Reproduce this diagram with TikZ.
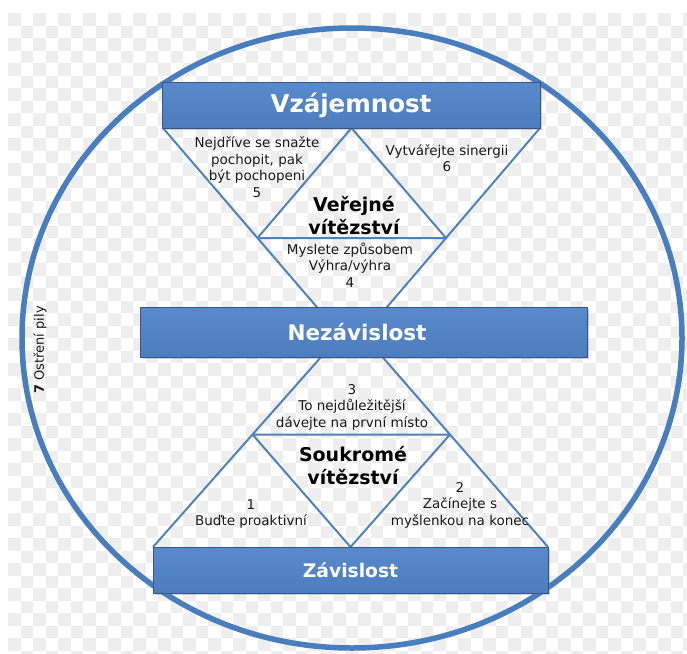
\documentclass[tikz,border=0pt]{standalone}
\usepackage{fontspec}
\setmainfont{DejaVu Sans}
\usetikzlibrary{shadows}

\definecolor{lineblue}{RGB}{79,129,189}
\definecolor{ringblue}{RGB}{72,125,190}
\definecolor{bartop}{RGB}{88,138,204}
\definecolor{barbot}{RGB}{76,125,190}
\definecolor{barrim}{RGB}{52,88,134}
\definecolor{checkgray}{RGB}{238,238,238}
\definecolor{inktext}{RGB}{25,25,25}

\begin{document}
\begin{tikzpicture}[x=1pt,y=-1pt,
  bar/.style={draw=barrim, line width=1pt, top color=bartop, bottom color=barbot,
    text=white, inner sep=0pt,
    drop shadow={shadow xshift=1.5pt, shadow yshift=-1.5pt, opacity=0.35}},
  habit/.style={align=center, font=\fontsize{13.5}{16.5}\selectfont, text=inktext, inner sep=0pt},
  victory/.style={align=center, font=\fontsize{19}{23}\selectfont\bfseries, text=black, inner sep=0pt},
  edge/.style={draw=lineblue, line width=2pt, line join=round}
]
\useasboundingbox (0,0) rectangle (687,653);
\fill[white] (0,0) rectangle (687,653);

% checkered backdrop
\begin{scope}
  \clip (8,13) rectangle (687,653);
  \foreach \j in {0,...,51}{
    \pgfmathtruncatemacro{\s}{mod(\j,2)}
    \foreach \i in {0,...,27}{
      \fill[checkgray] (8+25*\i+12.5*\s, 13+12.5*\j) rectangle ++(12.5,12.5);
    }
  }
\end{scope}

% the ring of renewal
\draw[ringblue, line width=5.5pt] (352,338) ellipse [x radius=330pt, y radius=310pt];

% upper (inverted) triangle and its subdivision
\coordinate (tA) at (163,128);
\coordinate (tB) at (540,128);
\coordinate (tC) at (352,348);
\coordinate (tAB) at (351.5,128);
\coordinate (tAC) at (257.5,238);
\coordinate (tBC) at (446,238);
\draw[edge] (tA) -- (tC) -- (tB);
\draw[edge] (tAC) -- (tAB) -- (tBC) -- cycle;

% lower triangle and its subdivision
\coordinate (bD) at (153,547);
\coordinate (bE) at (548,547);
\coordinate (bF) at (352,322);
\coordinate (bDE) at (350.5,547);
\coordinate (bDF) at (252.5,434.5);
\coordinate (bEF) at (450,434.5);
\draw[edge] (bD) -- (bF) -- (bE);
\draw[edge] (bDF) -- (bDE) -- (bEF) -- cycle;

% habits
\node[habit] (h5) at (257,167) {Nejdříve se snažte\\pochopit, pak\\být pochopeni\\5};
\node[habit] (h6) at (447,158) {Vytvářejte sinergii\\6};
\node[victory] (pub) at (354,216) {Veřejné\\vítězství};
\node[habit] (h4) at (350,265) {Myslete způsobem\\Výhra/výhra\\4};
\node[habit] (h3) at (352,407) {3\\To nejdůležitější\\dávejte na první místo};
\node[victory] (priv) at (353,466) {Soukromé\\vítězství};
\node[habit] (h1) at (251,514) {1\\Buďte proaktivní};
\node[habit] (h2) at (460,505) {2\\Začínejte s\\myšlenkou na konec};
\node[habit, rotate=90, font=\fontsize{13}{15}\selectfont] (h7) at (40,350) {\textbf{7} Ostření pily};

% maturity levels
\node[bar, minimum width=378pt, minimum height=46pt,
  font=\fontsize{24.5}{28}\selectfont\bfseries] (vzaj) at (351,105) {Vzájemnost};
\node[bar, minimum width=447pt, minimum height=50pt,
  font=\fontsize{21.5}{26}\selectfont\bfseries] (nezav) at (363.5,332) {\hspace*{-13pt}Nezávislost};
\node[bar, minimum width=395pt, minimum height=46pt,
  font=\fontsize{18.7}{22}\selectfont\bfseries] (zav) at (350.5,570) {Závislost};
\end{tikzpicture}
\end{document}
